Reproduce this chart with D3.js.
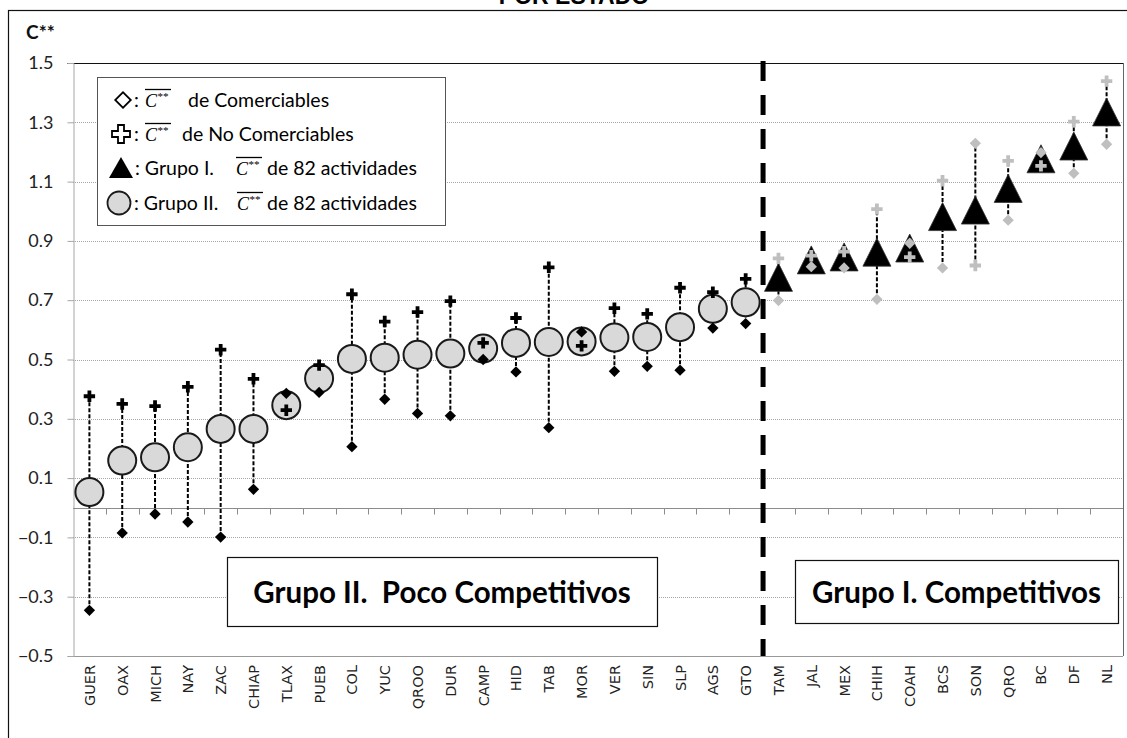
<!DOCTYPE html>
<html>
<head>
<meta charset="utf-8">
<script src="https://cdn.jsdelivr.net/npm/d3@7"></script>
<style>
 body { margin: 0; background: #fff; }
 svg { display: block; }
</style>
</head>
<body>
<div id="chart"></div>
<script>
// data
const states = ["GUER","OAX","MICH","NAY","ZAC","CHIAP","TLAX","PUEB","COL","YUC","QROO","DUR","CAMP","HID","TAB","MOR","VER","SIN","SLP","AGS","GTO",
                "TAM","JAL","MEX","CHIH","COAH","BCS","SON","QRO","BC","DF","NL"];
const grupo = ["II","II","II","II","II","II","II","II","II","II","II","II","II","II","II","II","II","II","II","II","II",
               "I","I","I","I","I","I","I","I","I","I","I"];
// C** promedio de 82 actividades
const cTotal = [0.053,0.159,0.170,0.204,0.266,0.266,0.346,0.436,0.502,0.506,0.516,0.520,0.537,0.556,0.559,0.561,0.574,0.576,0.609,0.671,0.693,
                0.777,0.836,0.846,0.862,0.876,0.982,1.004,1.077,1.177,1.220,1.335];
// C** de Comerciables (diamante)
const cComerc = [-0.346,-0.085,-0.021,-0.048,-0.099,0.062,0.386,0.389,0.206,0.366,0.318,0.310,0.500,0.458,0.270,0.593,0.460,0.477,0.464,0.606,0.621,
                 0.699,0.813,0.809,0.703,0.892,0.809,1.229,0.970,1.198,1.128,1.226];
// C** de No Comerciables (cruz)
const cNoComerc = [0.376,0.350,0.343,0.408,0.533,0.435,0.329,0.481,0.720,0.628,0.660,0.697,0.556,0.640,0.811,0.546,0.673,0.654,0.742,0.727,0.772,
                   0.841,0.850,0.864,1.007,0.845,1.103,0.817,1.170,1.153,1.302,1.439];
const yTicks = [-0.5,-0.3,-0.1,0.1,0.3,0.5,0.7,0.9,1.1,1.3,1.5];

const data = states.map((s,i) => ({state:s, g:grupo[i], c:cTotal[i], com:cComerc[i], nocom:cNoComerc[i]}));

const W = 1127, H = 738;
const plot = {left:73, right:1123, top:63, bottom:656};

const svg = d3.select("#chart").append("svg")
  .attr("width", W).attr("height", H);

const x = d3.scaleBand().domain(states).range([plot.left, plot.right]).padding(0);
const y = d3.scaleLinear().domain([-0.5, 1.5]).range([plot.bottom, plot.top]);
const cx = d => x(d.state) + x.bandwidth()/2;

// outer frame and title (cut at the top)
svg.append("rect")
  .attr("x", 8.5).attr("y", 10.5).attr("width", W).attr("height", H)
  .attr("fill", "none").attr("stroke", "#111").attr("stroke-width", 1.2);
svg.append("text")
  .attr("x", 574).attr("y", 4).attr("text-anchor", "middle")
  .style("font", "bold 23px 'Liberation Sans', Arial, sans-serif")
  .text("POR ESTADO");

// y label
svg.append("text")
  .attr("x", 26).attr("y", 39)
  .style("font", "bold 19px Lato, sans-serif").attr("fill", "#111")
  .text("C**");

// gridlines
svg.append("g").selectAll("line")
  .data(yTicks.filter(v => v > -0.5 && v < 1.5))
  .join("line")
  .attr("x1", plot.left).attr("x2", plot.right)
  .attr("y1", d => Math.round(y(d)) + 0.5).attr("y2", d => Math.round(y(d)) + 0.5)
  .attr("stroke", "#a6a6a6").attr("stroke-dasharray", "1,1");

// plot border: top black, right and bottom grey
svg.append("line").attr("x1", 67).attr("x2", plot.right).attr("y1", y(1.5)+0.5).attr("y2", y(1.5)+0.5)
  .attr("stroke", "#111");
svg.append("line").attr("x1", plot.right+0.5).attr("x2", plot.right+0.5).attr("y1", plot.top).attr("y2", plot.bottom)
  .attr("stroke", "#666");
svg.append("line").attr("x1", plot.left).attr("x2", plot.right).attr("y1", y(-0.5)+0.5).attr("y2", y(-0.5)+0.5)
  .attr("stroke", "#999");

// y axis
const yAxis = svg.append("g")
  .attr("transform", `translate(${plot.left + 0.5},0)`)
  .call(d3.axisLeft(y).tickValues(yTicks).tickSize(6).tickPadding(14).tickFormat(d3.format(".1f")));
yAxis.select(".domain").attr("stroke", "#a6a6a6");
yAxis.selectAll(".tick line").attr("stroke", "#a6a6a6");
yAxis.selectAll(".tick text")
  .style("font", "18px Lato, sans-serif").attr("fill", "#222");

// x axis line at zero with ticks between categories
const x0 = Math.round(y(0)) + 0.5;
svg.append("line").attr("x1", plot.left).attr("x2", plot.right).attr("y1", x0).attr("y2", x0)
  .attr("stroke", "#8c8c8c");
svg.append("g").selectAll("line")
  .data(states.slice(1))
  .join("line")
  .attr("x1", d => Math.round(x(d)) + 0.5).attr("x2", d => Math.round(x(d)) + 0.5)
  .attr("y1", x0).attr("y2", x0 + 6)
  .attr("stroke", "#8c8c8c");

// category labels, rotated
svg.append("g").selectAll("text")
  .data(data)
  .join("text")
  .attr("transform", d => `translate(${cx(d) + 5.5},665) rotate(-90)`)
  .attr("text-anchor", "end")
  .style("font", "14.5px 'DejaVu Sans', sans-serif").attr("fill", "#222")
  .text(d => d.state);

// separator between groups
const sepX = x("TAM");
svg.append("line")
  .attr("x1", sepX + 1).attr("x2", sepX + 1)
  .attr("y1", plot.top - 2).attr("y2", plot.bottom)
  .attr("stroke", "#000").attr("stroke-width", 5).attr("stroke-dasharray", "20,14");

// group boxes
function groupBox(x1, y1, x2, y2, label) {
  svg.append("rect").attr("x", x1 + 0.5).attr("y", y1 + 0.5).attr("width", x2 - x1).attr("height", y2 - y1)
    .attr("fill", "#fff").attr("stroke", "#111").attr("stroke-width", 1.2);
  svg.append("text")
    .attr("x", (x1 + x2)/2).attr("y", (y1 + y2)/2 + 11)
    .attr("text-anchor", "middle")
    .style("font", "bold 29.5px Lato, sans-serif").style("white-space", "pre")
    .text(label);
}
groupBox(227, 557, 657, 626, "Grupo II.  Poco Competitivos");
groupBox(795, 560, 1118, 623, "Grupo I. Competitivos");

// dashed connectors between comerciables and no comerciables
svg.append("g").selectAll("line")
  .data(data)
  .join("line")
  .attr("x1", cx).attr("x2", cx)
  .attr("y1", d => y(Math.min(d.com, d.nocom)))
  .attr("y2", d => y(Math.max(d.com, d.nocom)))
  .attr("stroke", "#000").attr("stroke-width", 2).attr("stroke-dasharray", "4,2");

// main markers
const triPath = "M0,-14L14,14L-14,14Z";
svg.append("g").selectAll("circle")
  .data(data.filter(d => d.g === "II"))
  .join("circle")
  .attr("cx", cx).attr("cy", d => y(d.c)).attr("r", 14)
  .attr("fill", "#d9d9d9").attr("stroke", "#1a1a1a").attr("stroke-width", 2);
svg.append("g").selectAll("path")
  .data(data.filter(d => d.g === "I"))
  .join("path")
  .attr("d", triPath)
  .attr("transform", d => `translate(${cx(d)},${y(d.c)})`)
  .attr("fill", "#000").attr("stroke", "#333").attr("stroke-width", 0.8);

// diamonds and crosses
const diamond = d3.symbol(d3.symbolSquare, 64);
const cross = d3.symbol(d3.symbolCross, 72);
const markColor = d => d.g === "I" ? "#bfbfbf" : "#000";
svg.append("g").selectAll("path")
  .data(data)
  .join("path")
  .attr("d", diamond)
  .attr("transform", d => `translate(${cx(d)},${y(d.com)}) rotate(45)`)
  .attr("fill", markColor);
svg.append("g").selectAll("path")
  .data(data)
  .join("path")
  .attr("d", cross)
  .attr("transform", d => `translate(${cx(d)},${y(d.nocom)})`)
  .attr("fill", markColor);

// legend
const leg = svg.append("g");
leg.append("rect").attr("x", 97.5).attr("y", 77.5).attr("width", 348).attr("height", 148)
  .attr("fill", "#fff").attr("stroke", "#555");
const legFont = "19.5px Lato, sans-serif";

function cbar(xp, yb) {
  const t = leg.append("text").attr("x", xp).attr("y", yb)
    .style("font", "italic 18px 'Liberation Serif', serif");
  t.append("tspan").text("C");
  t.append("tspan").attr("dy", -7).style("font-size", "11px").text("**");
  const w = t.node().getComputedTextLength();
  leg.append("line").attr("x1", xp).attr("x2", xp + w + 3)
    .attr("y1", yb - 17.5).attr("y2", yb - 17.5).attr("stroke", "#000").attr("stroke-width", 1.3);
}
function ltext(xp, yb, s) {
  leg.append("text").attr("x", xp).attr("y", yb).style("font", legFont).style("white-space", "pre").text(s);
}

const rows = [100, 134, 168, 203];
leg.append("path").attr("d", d3.symbol(d3.symbolSquare, 120))
  .attr("transform", `translate(123,${rows[0]}) rotate(45)`)
  .attr("fill", "#fff").attr("stroke", "#000").attr("stroke-width", 1.8);
ltext(134, rows[0] + 7, ":");
cbar(145, rows[0] + 7);
ltext(188, rows[0] + 7, "de Comerciables");

leg.append("path").attr("d", d3.symbol(d3.symbolCross, 180))
  .attr("transform", `translate(121,${rows[1]})`)
  .attr("fill", "#fff").attr("stroke", "#000").attr("stroke-width", 1.8);
ltext(134, rows[1] + 7, ":");
cbar(145, rows[1] + 7);
ltext(182, rows[1] + 7, "de No Comerciables");

leg.append("path").attr("d", "M0,-11L12,10L-12,10Z")
  .attr("transform", `translate(121,${rows[2]})`).attr("fill", "#000");
ltext(135, rows[2] + 7, ": Grupo I.");
cbar(236, rows[2] + 7);
ltext(267, rows[2] + 7, "de 82 actividades");

leg.append("circle").attr("cx", 119).attr("cy", rows[3]).attr("r", 11.5)
  .attr("fill", "#d9d9d9").attr("stroke", "#1a1a1a").attr("stroke-width", 1.8);
ltext(134, rows[3] + 7, ": Grupo II.");
cbar(237, rows[3] + 7);
ltext(267, rows[3] + 7, "de 82 actividades");
</script>
</body>
</html>
